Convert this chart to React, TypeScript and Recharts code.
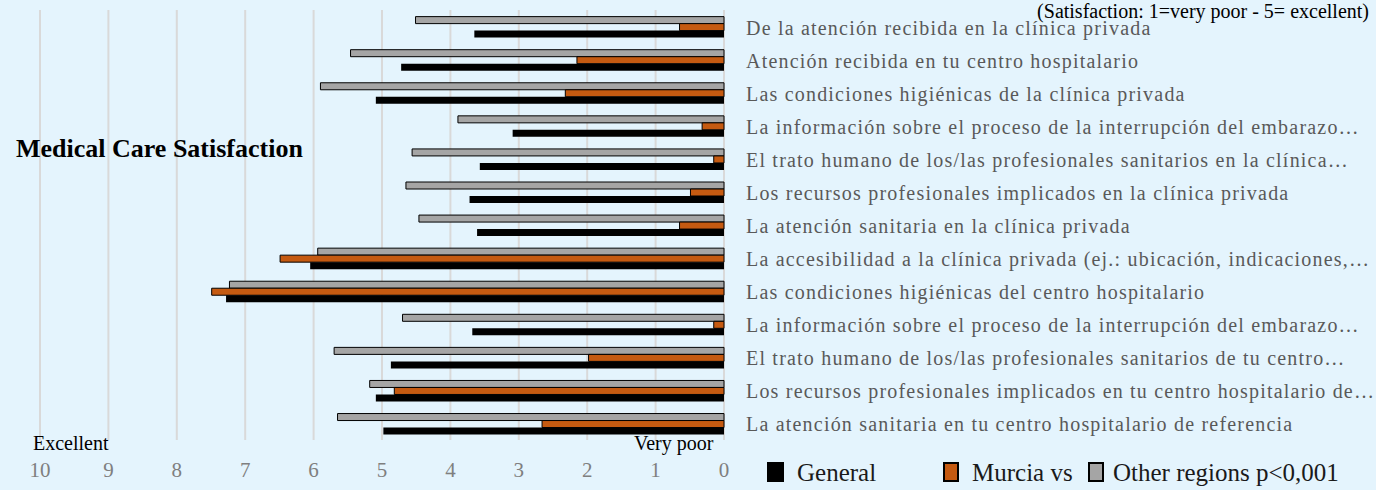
import { BarChart, Bar, XAxis, YAxis, CartesianGrid } from "recharts";

const categories = [
  "De la atención recibida en la clínica privada",
  "Atención recibida en tu centro hospitalario",
  "Las condiciones higiénicas de la clínica privada",
  "La información sobre el proceso de la interrupción del embarazo…",
  "El trato humano de los/las profesionales sanitarios en la clínica…",
  "Los recursos profesionales implicados en la clínica privada",
  "La atención sanitaria en la clínica privada",
  "La accesibilidad a la clínica privada (ej.: ubicación, indicaciones,…",
  "Las condiciones higiénicas del centro hospitalario",
  "La información sobre el proceso de la interrupción del embarazo…",
  "El trato humano de los/las profesionales sanitarios de tu centro…",
  "Los recursos profesionales implicados en tu centro hospitalario de…",
  "La atención sanitaria en tu centro hospitalario de referencia",
];

const otherRegions = [4.51, 5.46, 5.9, 3.89, 4.56, 4.65, 4.46, 5.94, 7.23, 4.7, 5.7, 5.18, 5.65];
const murcia = [0.65, 2.15, 2.32, 0.32, 0.15, 0.49, 0.65, 6.49, 7.49, 0.15, 1.98, 4.82, 2.66];
const general = [3.65, 4.72, 5.09, 3.09, 3.57, 3.72, 3.61, 6.05, 7.28, 3.68, 4.87, 5.09, 4.98];

const xTicks = [0, 1, 2, 3, 4, 5, 6, 7, 8, 9, 10];

const data = categories.map((name, i) => ({
  id: String(i),
  name,
  other: otherRegions[i],
  murcia: murcia[i],
  general: general[i],
}));

const FONT = "'Liberation Serif', 'DejaVu Serif', serif";

const CategoryTick = (props: any) => {
  const { x, y, payload } = props;
  return (
    <text
      x={x + 14}
      y={y}
      dy={8}
      fill="#595959"
      fontSize={20}
      letterSpacing={1.2}
      fontFamily={FONT}
      textAnchor="start"
    >
      {categories[Number(payload.value)]}
    </text>
  );
};

const ValueTick = (props: any) => {
  const { x, y, payload } = props;
  return (
    <text x={x} y={y} dy={29} fill="#7f7f7f" fontSize={21} fontFamily={FONT} textAnchor="middle">
      {payload.value}
    </text>
  );
};

const box = (left: number, width: number, color: string) => (
  <div
    style={{
      position: "absolute",
      left,
      top: 462,
      width,
      height: 20,
      background: color,
      border: "2px solid #000",
      boxSizing: "border-box",
    }}
  />
);

const label = (left: number, text: string) => (
  <div
    style={{
      position: "absolute",
      left,
      top: 460,
      fontSize: 25,
      lineHeight: 1,
      color: "#1a1a1a",
      whiteSpace: "nowrap",
    }}
  >
    {text}
  </div>
);

export default function App() {
  return (
    <div
      style={{
        position: "absolute",
        left: 0,
        top: 0,
        width: 1376,
        height: 490,
        background: "#E4F4FD",
        overflow: "hidden",
        fontFamily: FONT,
      }}
    >
      <BarChart
        width={1376}
        height={490}
        data={data}
        layout="vertical"
        margin={{ top: 10, right: 12, bottom: 0, left: 40 }}
        barCategoryGap="20%"
        barGap={0}
      >
        <CartesianGrid horizontal={false} stroke="#D9D9D9" strokeWidth={2} />
        <XAxis
          type="number"
          domain={[0, 10]}
          ticks={xTicks}
          reversed
          height={50}
          axisLine={false}
          tickLine={false}
          tick={<ValueTick />}
          interval={0}
        />
        <YAxis
          type="category"
          dataKey="id"
          orientation="right"
          width={640}
          axisLine={false}
          tickLine={false}
          tick={<CategoryTick />}
          interval={0}
        />
        <Bar dataKey="other" fill="#A5A5A5" stroke="#000" strokeWidth={1} isAnimationActive={false} />
        <Bar dataKey="murcia" fill="#C55A11" stroke="#000" strokeWidth={1} isAnimationActive={false} />
        <Bar dataKey="general" fill="#000" isAnimationActive={false} />
      </BarChart>

      <div
        style={{
          position: "absolute",
          right: 7,
          top: 1,
          fontSize: 20,
          lineHeight: 1,
          color: "#000",
          whiteSpace: "nowrap",
        }}
      >
        (Satisfaction: 1=very poor - 5= excellent)
      </div>

      <div
        style={{
          position: "absolute",
          left: 16,
          top: 136,
          fontSize: 26,
          lineHeight: 1,
          fontWeight: "bold",
          color: "#000",
          whiteSpace: "nowrap",
        }}
      >
        Medical Care Satisfaction
      </div>

      <div style={{ position: "absolute", left: 33, top: 433, fontSize: 20, lineHeight: 1, color: "#000" }}>
        Excellent
      </div>
      <div style={{ position: "absolute", left: 634, top: 433, fontSize: 20, lineHeight: 1, color: "#000" }}>
        Very poor
      </div>

      {box(767, 17, "#000")}
      {label(797, "General")}
      {box(943, 16, "#C55A11")}
      {label(972, "Murcia vs")}
      {box(1088, 16, "#A5A5A5")}
      {label(1113, "Other regions p<0,001")}
    </div>
  );
}
